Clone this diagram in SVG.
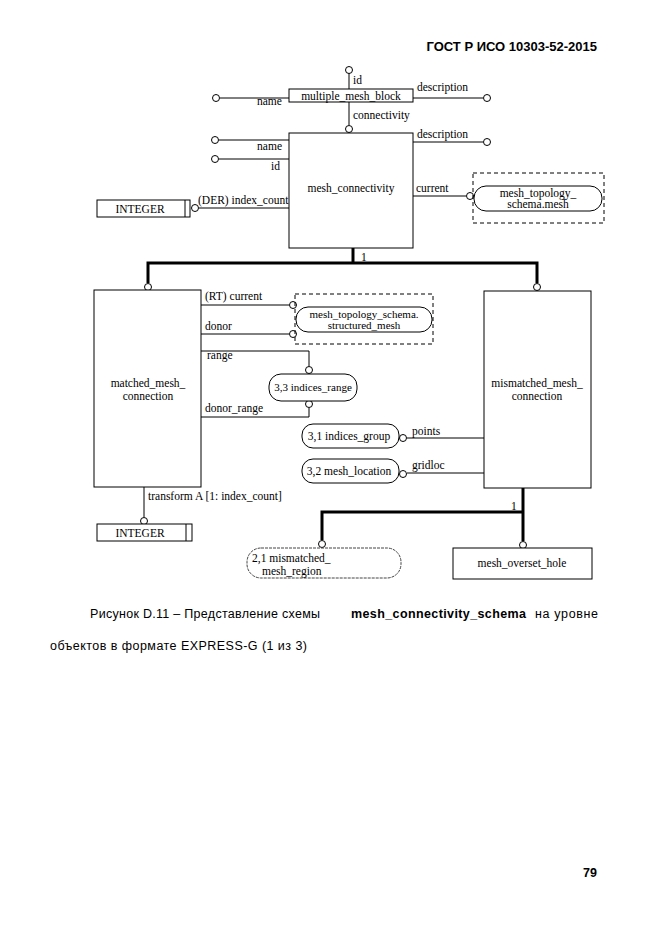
<svg xmlns="http://www.w3.org/2000/svg" width="661" height="935" viewBox="0 0 661 935">
<style>
.t{font-family:"Liberation Serif","Times New Roman",serif;font-size:11.5px;fill:#000}
.c{text-anchor:middle}
.box{fill:#fff;stroke:#000;stroke-width:1}
.rbox{fill:#fff;stroke:#000;stroke-width:1}
.ln{fill:none;stroke:#000;stroke-width:1}
.thk{fill:none;stroke:#000;stroke-width:3}
.dash{fill:none;stroke:#000;stroke-width:1;stroke-dasharray:4,3}
.o{fill:#fff;stroke:#000;stroke-width:1}
.cap{font-family:"Liberation Sans",Arial,sans-serif;font-size:12.5px;fill:#000}
</style>
<rect width="661" height="935" fill="#fff"/>
<text x="597" y="51" text-anchor="end" style="font-family:'Liberation Sans',Arial,sans-serif;font-size:13px;font-weight:bold">ГОСТ Р ИСО 10303-52-2015</text>

<g id="connectors">
  <line class="ln" x1="349" y1="73" x2="349" y2="89"/>
  <line class="ln" x1="220" y1="98" x2="289" y2="98"/>
  <line class="ln" x1="413" y1="98" x2="483" y2="98"/>
  <line class="ln" x1="349" y1="102" x2="349" y2="125"/>
  <line class="ln" x1="219" y1="140" x2="289" y2="140"/>
  <line class="ln" x1="219" y1="159" x2="289" y2="159"/>
  <line class="ln" x1="199" y1="208" x2="289" y2="208"/>
  <line class="ln" x1="413" y1="142" x2="483" y2="142"/>
  <line class="ln" x1="413" y1="196" x2="466" y2="196"/>
  <polyline class="thk" points="353,248 353,263"/>
  <polyline class="thk" points="148,283 148,263 537,263 537,283"/>
  <line class="ln" x1="201" y1="305" x2="289" y2="305"/>
  <line class="ln" x1="201" y1="334" x2="289" y2="334"/>
  <polyline class="ln" points="201,351 309,351 309,366"/>
  <polyline class="ln" points="309,408 309,417 201,417"/>
  <line class="ln" x1="144" y1="487" x2="144" y2="517"/>
  <line class="ln" x1="407" y1="438" x2="484" y2="438"/>
  <line class="ln" x1="407" y1="473" x2="484" y2="473"/>
  <polyline class="thk" points="523,488 523,541"/>
  <polyline class="thk" points="322,540 322,512 523,512"/>
  <circle class="o" cx="349" cy="70" r="3.5"/>
  <circle class="o" cx="216" cy="98" r="3.5"/>
  <circle class="o" cx="487" cy="98" r="3.5"/>
  <circle class="o" cx="349" cy="129" r="3.5"/>
  <circle class="o" cx="215" cy="140" r="3.5"/>
  <circle class="o" cx="215" cy="159" r="3.5"/>
  <circle class="o" cx="195" cy="208" r="3.5"/>
  <circle class="o" cx="487" cy="142" r="3.5"/>
  <circle class="o" cx="470" cy="196" r="3.5"/>
  <circle class="o" cx="148" cy="287" r="3.5"/>
  <circle class="o" cx="537" cy="287" r="3.5"/>
  <circle class="o" cx="293" cy="305" r="3.5"/>
  <circle class="o" cx="293" cy="334" r="3.5"/>
  <circle class="o" cx="309" cy="370" r="3.5"/>
  <circle class="o" cx="309" cy="404" r="3.5"/>
  <circle class="o" cx="144" cy="521" r="3.5"/>
  <circle class="o" cx="403" cy="438" r="3.5"/>
  <circle class="o" cx="403" cy="474" r="3.5"/>
  <circle class="o" cx="322" cy="544" r="3.5"/>
  <circle class="o" cx="523" cy="545" r="3.5"/>
  <text class="t" x="353" y="84">id</text>
  <text class="t" x="257" y="105">name</text>
  <text class="t" x="417" y="91">description</text>
  <text class="t" x="353" y="119">connectivity</text>
  <text class="t" x="282" y="150" text-anchor="end">name</text>
  <text class="t" x="280" y="170" text-anchor="end">id</text>
  <text class="t" x="198" y="204">(DER) index_count</text>
  <text class="t" x="417" y="138">description</text>
  <text class="t" x="416" y="192">current</text>
  <text class="t" x="361" y="261">1</text>
  <text class="t" x="205" y="300">(RT) current</text>
  <text class="t" x="205" y="330">donor</text>
  <text class="t" x="207" y="359">range</text>
  <text class="t" x="205" y="412">donor_range</text>
  <text class="t" x="148" y="500">transform A [1: index_count]</text>
  <text class="t" x="412" y="435">points</text>
  <text class="t" x="412" y="469">gridloc</text>
  <text class="t" x="511" y="510">1</text>
</g>

<g id="multiple_mesh_block">
  <rect class="box" x="289" y="89" width="124" height="13"/>
  <text class="t c" x="351" y="99.5">multiple_mesh_block</text>
</g>
<g id="mesh_connectivity">
  <rect class="box" x="289" y="133" width="124" height="115"/>
  <text class="t c" x="351" y="192">mesh_connectivity</text>
</g>
<g id="integer1">
  <rect class="box" x="97" y="200" width="93" height="17"/>
  <line class="ln" x1="185" y1="200" x2="185" y2="217"/>
  <text class="t c" x="140" y="213">INTEGER</text>
</g>
<g id="mesh_topology_schema_mesh">
  <rect class="dash" x="473" y="173" width="131" height="50"/>
  <rect class="rbox" x="474" y="186" width="128" height="25" rx="12" ry="12"/>
  <text class="t c" x="538" y="197">mesh_topology_</text>
  <text class="t c" x="538" y="208">schema.mesh</text>
</g>
<g id="matched_mesh_connection">
  <rect class="box" x="94" y="290" width="107" height="197"/>
  <text class="t c" x="148" y="387">matched_mesh_</text>
  <text class="t c" x="148" y="400">connection</text>
</g>
<g id="mesh_topology_schema_structured_mesh">
  <rect class="dash" x="295" y="294" width="138" height="50"/>
  <rect class="rbox" x="296" y="307" width="136" height="25" rx="12" ry="12"/>
  <text class="t c" x="364" y="318" style="font-size:11px">mesh_topology_schema.</text>
  <text class="t c" x="364" y="329" style="font-size:11px">structured_mesh</text>
</g>
<g id="indices_range">
  <rect class="rbox" x="269" y="374" width="88" height="27" rx="12" ry="12"/>
  <text class="t c" x="313" y="391" style="font-size:11px">3,3 indices_range</text>
</g>
<g id="mismatched_mesh_connection">
  <rect class="box" x="484" y="291" width="107" height="197"/>
  <text class="t c" x="537" y="387">mismatched_mesh_</text>
  <text class="t c" x="537" y="400">connection</text>
</g>
<g id="indices_group">
  <rect class="rbox" x="302" y="424" width="97" height="24" rx="11" ry="11"/>
  <text class="t c" x="349" y="440">3,1 indices_group</text>
</g>
<g id="mesh_location">
  <rect class="rbox" x="302" y="459" width="97" height="24" rx="11" ry="11"/>
  <text class="t c" x="349" y="475">3,2 mesh_location</text>
</g>
<g id="integer2">
  <rect class="box" x="97" y="524" width="95" height="17"/>
  <line class="ln" x1="186" y1="524" x2="186" y2="541"/>
  <text class="t c" x="140" y="537">INTEGER</text>
</g>
<g id="mismatched_mesh_region">
  <rect x="247" y="548" width="154" height="30" rx="14" ry="14" fill="#fff" stroke="#444" stroke-width="1" stroke-dasharray="3,1"/>
  <text class="t" x="252" y="562">2,1 mismatched_</text>
  <text class="t" x="262" y="575">mesh_region</text>
</g>
<g id="mesh_overset_hole">
  <rect class="box" x="453" y="548" width="139" height="31"/>
  <text class="t c" x="522" y="567">mesh_overset_hole</text>
</g>

<text class="cap" x="90" y="618" textLength="230" lengthAdjust="spacing">Рисунок D.11 – Представление схемы</text>
<text class="cap" x="351" y="618" textLength="175" lengthAdjust="spacing" font-weight="bold">mesh_connectivity_schema</text>
<text class="cap" x="535" y="618" textLength="63" lengthAdjust="spacing">на уровне</text>
<text class="cap" x="50" y="650" textLength="257" lengthAdjust="spacing">объектов в формате EXPRESS-G (1 из 3)</text>
<text x="597" y="877" text-anchor="end" style="font-family:'Liberation Sans',Arial,sans-serif;font-size:12.5px;font-weight:bold">79</text>
</svg>
